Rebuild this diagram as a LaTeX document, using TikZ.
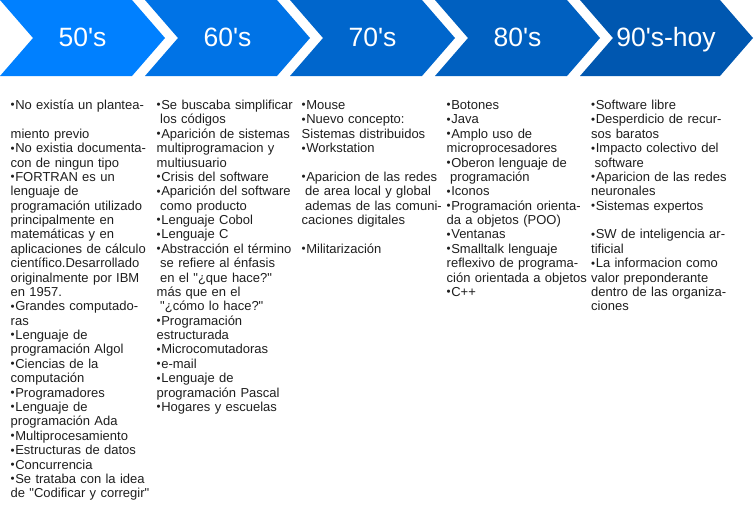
\documentclass[tikz,border=0pt]{standalone}
\usepackage{fontspec}
\newfontfamily\arialf{Liberation Sans}
\definecolor{cA}{RGB}{0,128,255}
\definecolor{cB}{RGB}{0,115,230}
\definecolor{cC}{RGB}{0,102,204}
\definecolor{cD}{RGB}{0,96,192}
\definecolor{cE}{RGB}{0,87,176}
\definecolor{txt}{RGB}{30,30,30}
\tikzset{
  hdr/.style={text=white, inner sep=0pt, anchor=base, font={\arialf\fontsize{26.5}{30}\selectfont}},
  col/.style={anchor=base west, inner sep=0pt, text width=170pt, align=left, text=txt,
    font={\arialf\fontsize{13.0}{14.38}\selectfont}},
}
\newcommand{\ind}{\hspace*{3.5pt}}
\newcommand{\bul}{\makebox[4.6pt][l]{\raisebox{0.6pt}{\fontsize{11.5}{12}\selectfont •}}}
\begin{document}
\begin{tikzpicture}[x=1pt,y=1pt]
\useasboundingbox (0,0) rectangle (754,-520);
% chevrons
\fill[cA] (0,0) -- (132,0) -- (165,-38) -- (132,-76) -- (0,-76) -- (33,-38) -- cycle;
\fill[cB] (145,0) -- (277,0) -- (310,-38) -- (277,-76) -- (145,-76) -- (178,-38) -- cycle;
\fill[cC] (290,0) -- (422,0) -- (455,-38) -- (422,-76) -- (290,-76) -- (323,-38) -- cycle;
\fill[cD] (435,0) -- (567,0) -- (600,-38) -- (567,-76) -- (435,-76) -- (468,-38) -- cycle;
\fill[cE] (580,0) -- (720,0) -- (753,-38) -- (720,-76) -- (580,-76) -- (613,-38) -- cycle;
\node[hdr] (h1) at (82.5,-46.7) {50's};
\node[hdr] (h2) at (227.5,-46.7) {60's};
\node[hdr] (h3) at (372.5,-46.7) {70's};
\node[hdr] (h4) at (517.5,-46.7) {80's};
\node[hdr] (h5) at (666,-46.7) {90's-hoy};
% columns
\node[col] (t1) at (10.5,-109.5) {\bul No existía un plantea-\\
~\\
miento previo\\
\bul No existia documenta-\\
con de ningun tipo\\
\bul FORTRAN es un\\
lenguaje de\\
programación utilizado\\
principalmente en\\
matemáticas y en\\
aplicaciones de cálculo\\
científico.Desarrollado\\
originalmente por IBM\\
en 1957.\\
\bul Grandes computado-\\
ras\\
\bul Lenguaje de\\
programación Algol\\
\bul Ciencias de la\\
computación\\
\bul Programadores\\
\bul Lenguaje de\\
programación Ada\\
\bul Multiprocesamiento\\
\bul Estructuras de datos\\
\bul Concurrencia\\
\bul Se trataba con la idea\\
de "Codificar y corregir"};
\node[col] (t2) at (156.5,-109.5) {\bul Se buscaba simplificar\\
\ind los códigos\\
\bul Aparición de sistemas\\
multiprogramacion y\\
multiusuario\\
\bul Crisis del software\\
\bul Aparición del software\\
\ind como producto\\
\bul Lenguaje Cobol\\
\bul Lenguaje C\\
\bul Abstracción el término\\
\ind se refiere al énfasis\\
\ind en el "¿que hace?"\\
más que en el\\
\ind "¿cómo lo hace?"\\
\bul Programación\\
estructurada\\
\bul Microcomutadoras\\
\bul e-mail\\
\bul Lenguaje de\\
programación Pascal\\
\bul Hogares y escuelas};
\node[col] (t3) at (301.5,-109.5) {\bul Mouse\\
\bul Nuevo concepto:\\
Sistemas distribuidos\\
\bul Workstation\\
~\\
\bul Aparicion de las redes\\
\ind de area local y global\\
\ind ademas de las comuni-\\
caciones digitales\\
~\\
\bul Militarización};
\node[col] (t4) at (446.5,-109.5) {\bul Botones\\
\bul Java\\
\bul Amplo uso de\\
microprocesadores\\
\bul Oberon lenguaje de\\
\ind programación\\
\bul Iconos\\
\bul Programación orienta-\\
da a objetos (POO)\\
\bul Ventanas\\
\bul Smalltalk lenguaje\\
reflexivo de programa-\\
ción orientada a objetos\\
\bul C++};
\node[col] (t5) at (591,-109.5) {\bul Software libre\\
\bul Desperdicio de recur-\\
sos baratos\\
\bul Impacto colectivo del\\
\ind software\\
\bul Aparicion de las redes\\
neuronales\\
\bul Sistemas expertos\\
~\\
\bul SW de inteligencia ar-\\
tificial\\
\bul La informacion como\\
valor preponderante\\
dentro de las organiza-\\
ciones};
\end{tikzpicture}
\end{document}
